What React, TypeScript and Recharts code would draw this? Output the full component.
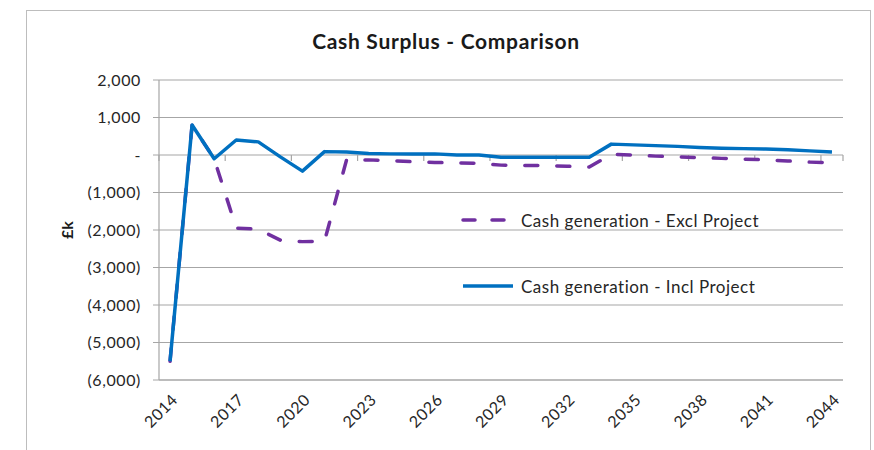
import React from 'react';
import { LineChart, Line, XAxis, YAxis, CartesianGrid, Legend, ReferenceLine } from 'recharts';

const years = [
  2014, 2015, 2016, 2017, 2018, 2019, 2020, 2021, 2022, 2023, 2024, 2025, 2026, 2027, 2028, 2029,
  2030, 2031, 2032, 2033, 2034, 2035, 2036, 2037, 2038, 2039, 2040, 2041, 2042, 2043, 2044,
];

const exclProject = [
  -5500, 800, -100, -1950, -1980, -2270, -2310, -2300, -130, -130, -150, -180, -200, -210, -220, -270,
  -280, -280, -300, -320, 20, 0, -30, -50, -70, -90, -110, -130, -160, -190, -210,
];

const inclProject = [
  -5500, 800, -100, 400, 350, -50, -430, 90, 80, 40, 30, 30, 30, 0, 0, -60,
  -60, -60, -60, -60, 290, 270, 250, 230, 200, 180, 170, 160, 140, 110, 80,
];

const xTicks = [2014, 2017, 2020, 2023, 2026, 2029, 2032, 2035, 2038, 2041, 2044];
const yTicks = [-6000, -5000, -4000, -3000, -2000, -1000, 0, 1000, 2000];

const series = [
  { key: 'excl', name: 'Cash generation - Excl Project', color: '#7030A0', dash: '13 19' },
  { key: 'incl', name: 'Cash generation - Incl Project', color: '#0070C0', dash: undefined },
];

const data = years.map((year, i) => ({ year, excl: exclProject[i], incl: inclProject[i] }));

// tick marks sit on the zero line, between categories, every 3 years
const boundaryTicks = xTicks.map((t) => t - 0.5).concat([years[years.length - 1] + 0.5]);

const FONT = 'Lato, Calibri, sans-serif';
const GRID = '#a6a6a6';

const fmtY = (v: number) => {
  if (v === 0) return '-';
  const s = Math.abs(v).toLocaleString('en-GB');
  return v < 0 ? `(${s})` : s;
};

const XTick = (props: any) => {
  const { x, y, payload } = props;
  return (
    <g transform={`translate(${x + 6},${y + 10})`}>
      <text
        x={0}
        y={0}
        dy={4}
        textAnchor="end"
        transform="rotate(-45)"
        fill="#262626"
        fontSize={16}
        letterSpacing={0.6}
        fontFamily={FONT}
      >
        {payload.value}
      </text>
    </g>
  );
};

const renderLegend = () => (
  <div style={{ fontFamily: FONT, fontSize: 17, letterSpacing: 0.5, color: '#262626' }}>
    {series.map((s, i) => (
      <div key={s.key} style={{ display: 'flex', alignItems: 'center', height: 24, marginTop: i === 0 ? 0 : 42 }}>
        <svg width={60} height={10} style={{ display: 'block' }}>
          <line
            x1={2}
            y1={5}
            x2={52}
            y2={5}
            stroke={s.color}
            strokeWidth={3.5}
            strokeDasharray={s.dash ? '12 17' : undefined}
            strokeLinecap={s.dash ? 'round' : 'butt'}
          />
        </svg>
        <span>{s.name}</span>
      </div>
    ))}
  </div>
);

export default function App() {
  return (
    <div style={{ position: 'absolute', left: 0, top: 0, width: 874, height: 450, overflow: 'hidden', background: '#fff' }}>
      <div
        style={{
          position: 'absolute',
          left: 26,
          top: 10,
          width: 845,
          height: 470,
          border: '1px solid #bdbdbd',
          boxSizing: 'border-box',
        }}
      />
      <div
        style={{
          position: 'absolute',
          left: 0,
          width: 892,
          top: 28,
          textAlign: 'center',
          fontFamily: FONT,
          fontWeight: 700,
          fontSize: 21,
          letterSpacing: 0.7,
          color: '#1a1a1a',
        }}
      >
        Cash Surplus - Comparison
      </div>
      <LineChart width={874} height={450} data={data} margin={{ top: 80, right: 31, bottom: 10, left: 99 }}>
        <CartesianGrid vertical={false} stroke={GRID} strokeWidth={1.2} />
        <XAxis
          dataKey="year"
          type="number"
          domain={[2013.5, 2044.5]}
          ticks={xTicks}
          interval={0}
          tick={<XTick />}
          tickLine={false}
          axisLine={{ stroke: GRID, strokeWidth: 1.2 }}
          height={60}
        />
        <YAxis
          domain={[-6000, 2000]}
          ticks={yTicks}
          interval={0}
          width={60}
          tickFormatter={fmtY}
          tickSize={6}
          tickMargin={12}
          tickLine={{ stroke: GRID }}
          axisLine={{ stroke: GRID, strokeWidth: 1.2 }}
          tick={{ fill: '#262626', fontSize: 16, letterSpacing: 0.6, fontFamily: FONT }}
          label={{
            content: (p: any) => {
              const vb = p.viewBox;
              const cx = vb.x - 33;
              const cy = vb.y + vb.height / 2;
              return (
                <text
                  x={cx}
                  y={cy}
                  transform={`rotate(-90, ${cx}, ${cy})`}
                  textAnchor="middle"
                  dominantBaseline="central"
                  fontFamily={FONT}
                  fontWeight={700}
                  fontSize={16}
                  fill="#1a1a1a"
                >
                  £k
                </text>
              );
            },
          }}
        />
        {boundaryTicks.map((b) => (
          <ReferenceLine
            key={b}
            segment={[
              { x: b, y: 0 },
              { x: b, y: -160 },
            ]}
            stroke={GRID}
            strokeWidth={1.2}
            ifOverflow="visible"
          />
        ))}
        <Legend
          layout="vertical"
          align="center"
          verticalAlign="middle"
          content={renderLegend}
          wrapperStyle={{ left: 461, top: 208, width: 360 }}
        />
        {series.map((s) => (
          <Line
            key={s.key}
            type="linear"
            dataKey={s.key}
            name={s.name}
            stroke={s.color}
            strokeWidth={3.5}
            strokeDasharray={s.dash}
            strokeLinecap={s.dash ? 'round' : 'butt'}
            strokeLinejoin="round"
            dot={false}
            activeDot={false}
            isAnimationActive={false}
          />
        ))}
      </LineChart>
    </div>
  );
}
